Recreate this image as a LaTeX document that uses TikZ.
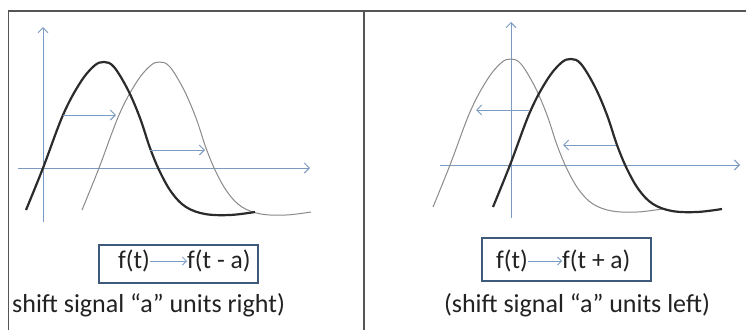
\documentclass[tikz,border=0pt]{standalone}
\usepackage{fontspec}
\setmainfont{Carlito}
\usetikzlibrary{arrows.meta,fit}
\definecolor{axisblue}{HTML}{7B9BC2}
\definecolor{boxblue}{HTML}{3E5A7A}
\definecolor{framegray}{HTML}{555555}
\definecolor{darkcurve}{HTML}{2B2B2B}
\definecolor{lightcurve}{HTML}{8A8A88}
\definecolor{txt}{HTML}{222222}
\newcommand{\pulsepts}{(26,210) (43,168) (63,115) (80,83) (94,66) (104,62) (114,67) (128,90) (140,118) (150,148) (160,172) (172,193) (186,207) (205,214) (230,215) (255,212)}
\tikzset{
  axis/.style={draw=axisblue, line width=1pt, -{Straight Barb[length=5pt,width=10pt]}},
  shiftarrow/.style={draw=axisblue, line width=1pt, -{Straight Barb[length=5pt,width=10pt]}},
  eqarrow/.style={draw=axisblue, line width=0.8pt, -{Straight Barb[length=4pt,width=8pt]}},
  heavy/.style={draw=darkcurve, line width=2.2pt},
  thin/.style={draw=lightcurve, line width=1pt},
  frame/.style={draw=framegray, line width=1.6pt},
  ftext/.style={text=txt, font=\fontsize{25.5}{30}\selectfont, inner sep=0pt},
  caption/.style={text=txt, font=\fontsize{26}{30}\selectfont, inner sep=0pt},
  eqbox/.style={draw=boxblue, line width=1.3pt, inner sep=0pt}
}
\begin{document}
\begin{tikzpicture}[x=1pt,y=-1pt]
\useasboundingbox (0,0) rectangle (746,330);
\fill[white] (0,0) rectangle (746,330);
% frame
\coordinate (tl) at (8.5,10.7);
\coordinate (tr) at (746,10.7);
\coordinate (bl) at (8.5,330);
\coordinate (tm) at (364,10.7);
\coordinate (bm) at (364,330);
\draw[frame] (bl) -- (tl) -- (tr);
\draw[frame] (tm) -- (bm);

% ---------- left panel ----------
\coordinate (ly0) at (43,222);
\coordinate (ly1) at (43,27);
\coordinate (lx0) at (18,168);
\coordinate (lx1) at (310,168);
\draw[axis] (ly0) -- (ly1);
\draw[axis] (lx0) -- (lx1);
\draw[thin,shift={(56,0)}] plot[smooth,tension=0.6] coordinates {\pulsepts};
\draw[heavy] plot[smooth,tension=0.6] coordinates {\pulsepts};
\coordinate (la1s) at (63,115);
\coordinate (la1e) at (116,115);
\coordinate (la2s) at (150,150);
\coordinate (la2e) at (205,150);
\draw[shiftarrow] (la1s) -- (la1e);
\draw[shiftarrow] (la2s) -- (la2e);
\node[ftext, anchor=base east] (lf) at (150,268) {f(t)};
\node[ftext, anchor=base west] (lg) at (187,268) {f(t - a)};
\draw[eqarrow] ([yshift=7pt]lf.base east) -- ([yshift=7pt]lg.base west);
\node[eqbox, fit={(99,245) (258,283)}] (lbox) {};
\node[caption, anchor=base west] (lcap) at (12,312) {shift signal “a” units right)};

% ---------- right panel ----------
\coordinate (ry0) at (511,218);
\coordinate (ry1) at (511,22);
\coordinate (rx0) at (440,165);
\coordinate (rx1) at (740,165);
\draw[axis] (ry0) -- (ry1);
\draw[axis] (rx0) -- (rx1);
\draw[thin,shift={(407,-3)}] plot[smooth,tension=0.6] coordinates {\pulsepts};
\draw[heavy,shift={(467,-3)}] plot[smooth,tension=0.6] coordinates {\pulsepts};
\coordinate (ra1s) at (529,110);
\coordinate (ra1e) at (476,110);
\coordinate (ra2s) at (616,145);
\coordinate (ra2e) at (563,145);
\draw[shiftarrow] (ra1s) -- (ra1e);
\draw[shiftarrow] (ra2s) -- (ra2e);
\node[ftext, anchor=base east] (rf) at (528,268) {f(t)};
\node[ftext, anchor=base west] (rg) at (562,268) {f(t + a)};
\draw[eqarrow] ([yshift=7pt]rf.base east) -- ([yshift=7pt]rg.base west);
\node[eqbox, fit={(482,238) (651,281)}] (rbox) {};
\node[caption, anchor=base] (rcap) at (577,312) {(shift signal “a” units left)};
\end{tikzpicture}
\end{document}
